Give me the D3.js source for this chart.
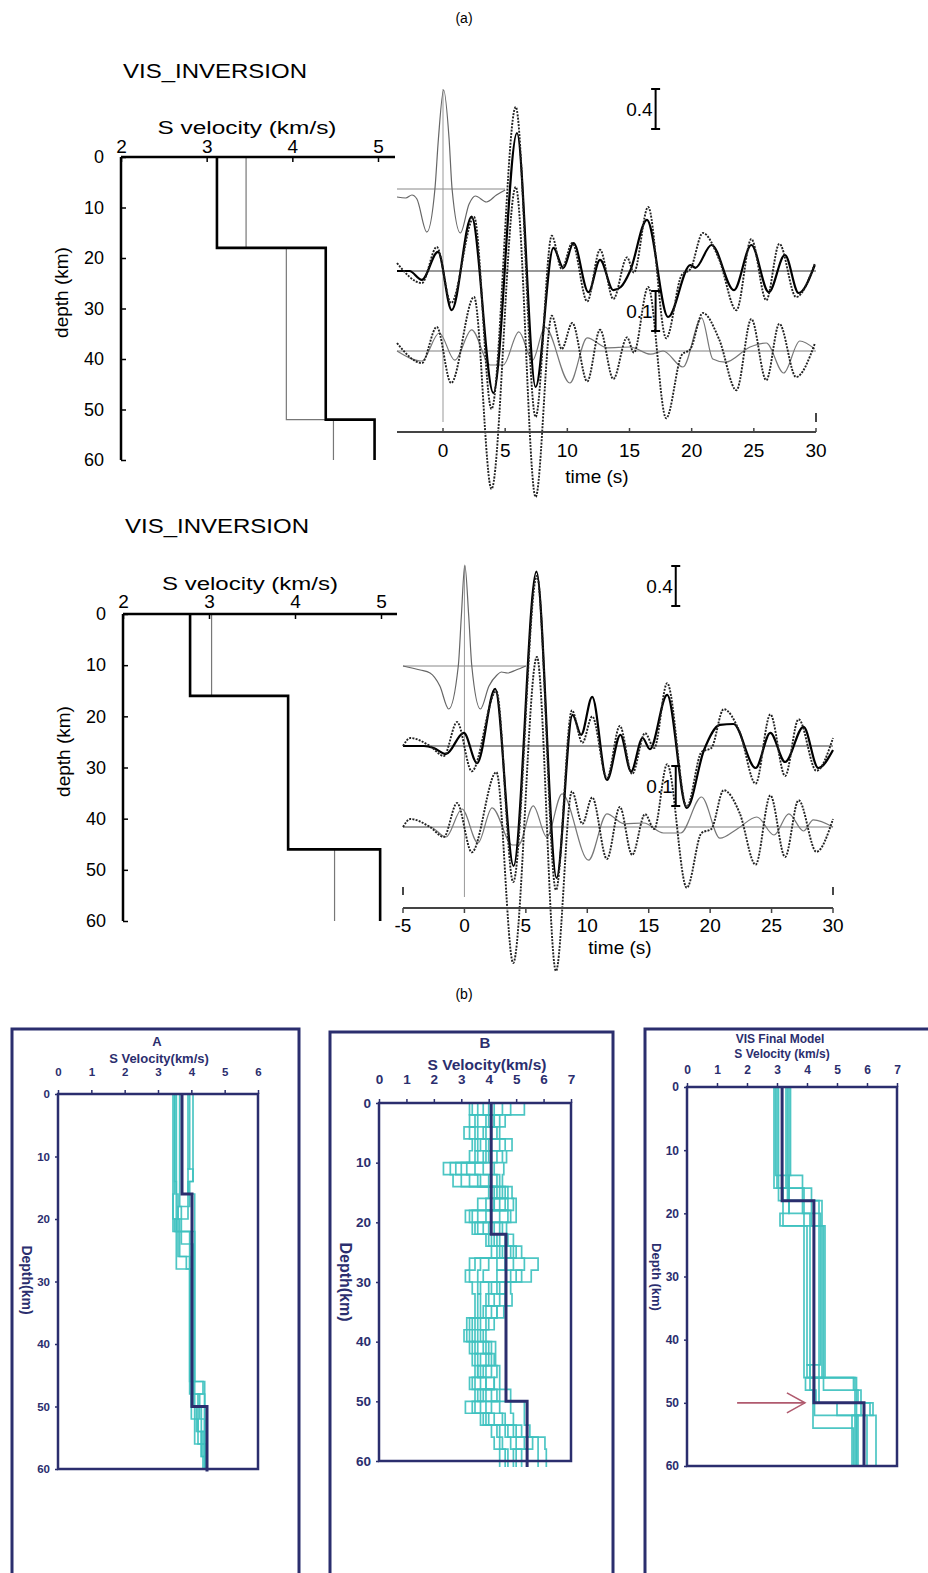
<!DOCTYPE html>
<html>
<head>
<meta charset="utf-8">
<script src="https://cdn.jsdelivr.net/npm/d3@7"></script>
<style>
body { margin: 0; background: #fff; }
text { font-family: "Liberation Sans", Arial, sans-serif; }
</style>
</head>
<body>
<svg id="fig" width="928" height="1573"></svg>
<script>
// ---------- data: (a) velocity models, [top depth km, Vs km/s] ----------
const velTicks = [2, 3, 4, 5];
const depthTicks = [0, 10, 20, 30, 40, 50, 60];
const model1Final = [[0, 3.12], [18, 4.39], [52, 4.96]];
const model1Start = [[0, 3.46], [18, 3.93], [52, 4.48]];
const model2Final = [[0, 2.78], [16, 3.92], [46, 4.99]];
const model2Start = [[0, 3.03], [16, 3.92], [46, 4.46]];

// ---------- data: (a) waveforms, [time s, amplitude] ----------
const timeTicksTop = [0, 5, 10, 15, 20, 25, 30];
const timeTicksBot = [-5, 0, 5, 10, 15, 20, 25, 30];

const topWavelet = [[-3.7,-0.08],[-3.0,-0.09],[-2.5,-0.06],[-2.1,-0.1],[-1.3,-0.43],[-0.65,0],[-0.37,0.5],
  [0.05,0.99],[0.49,0.5],[0.73,0],[1.4,-0.44],[2.1,-0.15],[2.6,-0.07],[3.5,-0.13],[4.3,-0.06],[5,-0.01]];
const topObserved = [[-3.7,0.02],[-1.7,-0.03],[-0.5,0.06],[0.65,-0.08],[2.5,0.135],[3.9,-0.345],[5.85,0.41],
  [7.45,-0.365],[8.75,0.088],[9.55,0.005],[10.4,0.07],[11.6,-0.076],[12.63,0.053],[13.7,-0.07],[14.8,0.034],
  [15.35,-0.004],[16.5,0.16],[17.95,-0.168],[19.2,-0.01],[19.9,0.005],[20.9,0.095],[22.2,0.03],[23.6,-0.098],
  [24.8,0.08],[26.0,-0.073],[27.05,0.068],[28.4,-0.065],[29.9,0.018]];
const topFinal = [[-3.7,0],[-2.7,0],[-1.7,-0.022],[-0.4,0.048],[0.7,-0.098],[2.3,0.136],[4.05,-0.305],[5.95,0.345],
  [7.45,-0.29],[8.88,0.058],[9.68,0.008],[10.5,0.07],[11.7,-0.053],[12.63,0.028],[13.7,-0.048],[14.3,-0.04],
  [15.05,0],[16.4,0.128],[18.1,-0.115],[19.9,0.015],[20.3,0.008],[21.6,0.065],[23.4,-0.048],[24.8,0.065],
  [26.2,-0.053],[27.5,0.04],[28.6,-0.055],[29.9,0.015]];
const topInitial = [[-3.7,0],[-1.7,-0.025],[-0.3,0.045],[0.95,-0.023],[2.3,0.053],[3.8,-0.035],[4.85,-0.035],
  [6.1,0.048],[7.2,-0.023],[8.2,0.06],[10.2,-0.08],[11.6,0.033],[13.2,0.008],[15.05,0.01],[16.7,-0.008],
  [17.7,0],[19.3,-0.04],[20.8,0.083],[21.7,-0.02],[22.7,-0.028],[24.7,0.01],[26,0.02],[27.4,-0.055],
  [28.7,0.025],[29.9,0.005]];

const botWavelet = [[-5,0],[-3.6,-0.04],[-2.8,-0.07],[-2.0,-0.2],[-1.28,-0.43],[-0.5,0],[-0.25,0.5],[0.03,1.01],
  [0.35,0.5],[0.6,0],[1.3,-0.43],[2.0,-0.2],[2.65,-0.09],[3.0,-0.06],[3.5,-0.07],[4.2,-0.04],[5,0]];
const botObserved = [[-5,0],[-4.4,0.02],[-2.8,0],[-1.68,-0.025],[-0.6,0.06],[0.6,-0.063],[2.6,0.137],[3.97,-0.34],
  [5.9,0.425],[7.45,-0.36],[8.75,0.089],[9.6,0.008],[10.4,0.074],[11.6,-0.08],[12.65,0.05],[13.65,-0.07],
  [14.7,0.032],[15.45,-0.005],[16.5,0.157],[18.1,-0.152],[19.3,-0.015],[20.1,-0.005],[21.1,0.092],[22.4,0.035],
  [23.7,-0.094],[24.9,0.079],[26.1,-0.075],[27.2,0.067],[28.65,-0.062],[30,0.02]];
const botFinal = [[-5,0],[-3.3,0],[-2.5,-0.005],[-1.5,-0.02],[-0.05,0.033],[1.03,-0.043],[2.5,0.143],[4.0,-0.3],
  [5.86,0.436],[7.5,-0.33],[8.8,0.078],[9.5,0.028],[10.4,0.123],[11.6,-0.085],[12.7,0.028],[13.56,-0.064],
  [14.5,0.02],[15.1,-0.008],[16.5,0.128],[18.1,-0.155],[19.5,-0.01],[20.8,0.053],[21.9,0.055],[23.7,-0.055],
  [24.9,0.033],[26.1,-0.04],[27.6,0.048],[28.8,-0.055],[30,-0.01]];
const botInitial = [[-5,0],[-2.8,0],[-1.5,-0.025],[-0.2,0.045],[1.1,-0.04],[2.25,0.048],[3.9,-0.045],[4.4,-0.045],
  [5.6,0.053],[6.7,-0.025],[7.95,0.083],[10.1,-0.083],[11.6,0.033],[13,0.008],[14.6,0.01],[16.2,-0.015],
  [17.6,-0.015],[19.3,0.075],[20.8,-0.028],[22.2,-0.005],[23.8,0.025],[25.2,-0.02],[26.4,0.033],[27.6,-0.01],
  [28.4,0.018],[30,0]];

// ---------- data: (b) model ensembles ----------
const finalA = [[0, 3.72], [16, 4.02], [50, 4.47]];
const profilesA = [
  [[0,3.45],[22,3.95],[46,4.35],[48,4.2],[56,4.45]],
  [[0,3.5],[14,3.55],[28,4.0],[46,4.4],[54,4.3],[58,4.45]],
  [[0,3.55],[16,3.6],[26,3.95],[48,4.25],[52,4.4]],
  [[0,3.65],[18,3.7],[24,4.05],[50,4.1],[56,4.45]],
  [[0,3.9],[12,4.05],[14,3.9],[16,4.1],[50,4.3],[58,4.45]],
  [[0,3.95],[12,3.9],[20,3.55],[22,4.0],[52,4.2],[54,4.35]],
  [[0,4.05],[14,3.95],[18,3.6],[20,3.5],[22,4.1],[46,4.05],[48,4.4],[56,4.45]],
  [[0,3.5],[16,3.45],[20,3.65],[26,3.85],[28,4.0],[50,4.15],[54,4.4]]
];
const finalB = [[0, 4.09], [22, 4.63], [50, 5.4]];
// 2 km layers from the surface
const profilesB = [
  [3.3,3.5,3.1,3.4,3.3,2.35,2.7,4.0,3.6,3.15,3.4,3.9,4.1,3.3,3.15,3.4,3.5,3.5,3.2,3.1,3.3,3.4,3.5,3.3,3.5,3.15,3.7,4.1,4.2,4.4],
  [5.3,4.6,4.4,4.85,4.65,4.55,4.5,4.85,5.0,5.0,4.65,4.9,5.2,5.8,5.55,4.8,4.85,4.55,4.2,3.9,4.25,4.25,4.4,4.4,4.8,5.3,5.3,5.5,6.05,6.1],
  [3.6,3.3,3.5,3.6,3.5,2.6,3.0,4.2,4.4,3.4,3.6,4.1,4.4,3.5,3.3,3.6,3.7,3.7,3.4,3.2,3.5,3.6,3.7,3.5,3.7,3.5,3.9,4.3,4.5,4.6],
  [4.0,3.9,3.8,4.0,3.8,3.0,3.3,4.4,4.7,3.9,3.8,4.3,4.6,4.0,3.8,4.0,4.0,3.9,3.6,3.4,3.8,3.9,3.9,3.7,3.9,3.9,4.2,4.6,4.8,5.0],
  [4.5,4.2,4.1,4.4,4.3,3.5,3.7,4.6,4.9,4.4,4.2,4.6,4.8,4.6,4.3,4.3,4.4,4.1,3.9,3.6,4.0,4.1,4.1,3.9,4.1,4.4,4.6,4.9,5.3,5.4],
  [4.8,3.6,3.3,3.9,4.0,3.8,4.0,4.3,3.9,4.7,4.4,4.0,4.3,5.3,5.0,3.7,3.6,3.6,3.3,3.3,3.6,3.5,3.6,3.9,4.4,3.7,4.0,5.2,5.8,5.8],
  [3.8,4.4,3.6,3.5,4.5,4.2,4.3,4.1,4.6,3.6,4.5,4.7,5.0,3.7,3.6,4.6,3.9,4.3,4.0,3.7,4.1,3.7,4.3,4.2,3.6,4.8,4.9,4.4,4.4,4.7],
  [4.2,4.0,4.3,3.7,3.6,3.2,3.6,4.5,4.2,3.3,4.0,4.4,4.5,4.9,4.8,4.1,4.2,3.8,3.5,3.5,3.4,4.0,3.8,3.4,4.3,4.1,3.8,4.7,5.0,5.2],
  [3.4,4.2,3.9,4.6,3.9,2.8,4.4,4.7,4.2,4.8,3.5,4.2,4.9,4.3,5.2,4.4,4.6,4.3,3.7,3.8,3.9,4.2,3.6,4.2,3.8,3.4,4.5,5.0,5.6,4.9]
];
const finalVis = [[0, 3.17], [18, 4.23], [50, 5.9]];
const profilesVis = [
  [[0,2.9],[16,3.9],[46,5.65]],
  [[0,2.95],[14,3.85],[20,4.45],[44,4.0],[46,5.6],[52,5.5]],
  [[0,3.0],[16,4.15],[22,4.55],[48,5.7],[50,6.1],[52,6.3]],
  [[0,3.35],[18,4.5],[46,3.95],[48,4.2],[54,5.55]],
  [[0,3.4],[20,4.1],[48,4.3],[50,5.0],[52,5.7]],
  [[0,3.45],[14,3.4],[20,3.1],[22,4.6],[46,4.25],[52,6.0]],
  [[0,3.05],[18,4.4],[50,6.2],[52,5.6]],
  [[0,3.3],[16,3.2],[22,4.0],[44,4.1],[46,5.55],[48,5.8],[52,5.65]]
];

const navy = "#2b2e6e";
const cyan = "#3ec1bf";
const svg = d3.select("#fig");
const intFmt = d3.format("d");

// model as [[top, v]...] -> step line points [v, depth]
function stepPoints(model, bottom) {
  const pts = [];
  model.forEach((d, i) => {
    const next = i < model.length - 1 ? model[i + 1][0] : bottom;
    pts.push([d[1], d[0]], [d[1], next]);
  });
  return pts;
}

function styleAxis(g, size, color, weight) {
  g.attr("font-size", null).attr("font-family", null);
  g.select(".domain").remove();
  g.selectAll("line").attr("stroke", color).attr("stroke-width", 1.5);
  g.selectAll("text").attr("font-size", size).attr("fill", color).attr("font-weight", weight || null);
}

svg.append("text").attr("x", 464).attr("y", 23).attr("text-anchor", "middle").attr("font-size", 14).text("(a)");
svg.append("text").attr("x", 464).attr("y", 999).attr("text-anchor", "middle").attr("font-size", 14).text("(b)");

// ---------- velocity panels of (a) ----------
function velPanel(o) {
  const x = d3.scaleLinear().domain([2, 5]).range([o.left, o.right]);
  const y = d3.scaleLinear().domain([0, 60]).range([o.top, o.bottom]);
  const g = svg.append("g");

  g.append("text").attr("x", o.left + 2).attr("y", o.titleY).attr("font-size", 21)
    .attr("textLength", 184).attr("lengthAdjust", "spacingAndGlyphs").text("VIS_INVERSION");
  g.append("text").attr("x", o.labelX).attr("y", o.labelY).attr("font-size", 18).attr("text-anchor", "middle")
    .attr("textLength", o.labelLen).attr("lengthAdjust", "spacingAndGlyphs").text("S velocity (km/s)");
  g.append("text").attr("transform", `translate(${o.left - 53},${(o.top + o.bottom) / 2 - 16}) rotate(-90)`)
    .attr("text-anchor", "middle").attr("font-size", 19).text("depth (km)");

  const line = d3.line().x(d => x(d[0])).y(d => y(d[1]));
  g.append("path").attr("d", line(stepPoints(o.start, 60))).attr("fill", "none").attr("stroke", "#777").attr("stroke-width", 1.2);
  g.append("path").attr("d", line(stepPoints(o.final, 60))).attr("fill", "none").attr("stroke", "#000").attr("stroke-width", 2.6);

  const ax = g.append("g").attr("transform", `translate(0,${o.top})`)
    .call(d3.axisTop(x).tickValues(velTicks).tickFormat(intFmt).tickSize(-5).tickPadding(o.velPad));
  styleAxis(ax, 19, "#000");
  const ay = g.append("g").attr("transform", `translate(${o.left},0)`)
    .call(d3.axisLeft(y).tickValues(depthTicks).tickFormat(intFmt).tickSize(-5).tickPadding(17));
  styleAxis(ay, 18, "#000");

  g.append("line").attr("x1", o.left).attr("x2", o.axisEnd).attr("y1", o.top).attr("y2", o.top)
    .attr("stroke", "#000").attr("stroke-width", 2.5);
  g.append("line").attr("x1", o.left).attr("x2", o.left).attr("y1", o.top).attr("y2", o.bottom)
    .attr("stroke", "#000").attr("stroke-width", 2.5);
}

velPanel({ left: 121, right: 378, top: 157, bottom: 460, axisEnd: 395, titleY: 78,
  labelX: 247, labelY: 134, labelLen: 179, velPad: 4, final: model1Final, start: model1Start });
velPanel({ left: 123, right: 381, top: 614, bottom: 921, axisEnd: 397, titleY: 533,
  labelX: 250, labelY: 590, labelLen: 176, velPad: 6, final: model2Final, start: model2Start });

// ---------- waveform panels of (a) ----------
const rfAmp = d3.scaleLinear().domain([0, 0.1]).range([0, -40]);
const wvAmp = d3.scaleLinear().domain([0, 0.4]).range([0, -40]);

function wavePanel(o) {
  const t = o.t;
  const g = svg.append("g");
  const [b1, b2, b3] = o.bases;
  const tmin = t.domain()[0];
  const lineAt = (base, amp) => d3.line().x(d => t(d[0])).y(d => base + amp(d[1])).curve(d3.curveMonotoneX);

  // baselines
  g.append("line").attr("x1", t(tmin)).attr("x2", t(5)).attr("y1", b1).attr("y2", b1).attr("stroke", "#888").attr("stroke-width", 1);
  g.append("line").attr("x1", t(tmin)).attr("x2", t(30)).attr("y1", b2).attr("y2", b2).attr("stroke", "#777").attr("stroke-width", 1.3);
  g.append("line").attr("x1", t(tmin)).attr("x2", t(30)).attr("y1", b3).attr("y2", b3).attr("stroke", "#aaa").attr("stroke-width", 1.3);
  // zero-time marker
  g.append("line").attr("x1", t(0)).attr("x2", t(0)).attr("y1", b1 + wvAmp(1.0)).attr("y2", o.vlineBottom)
    .attr("stroke", "#999").attr("stroke-width", 1);

  g.append("path").attr("d", lineAt(b1, wvAmp)(o.wavelet)).attr("fill", "none").attr("stroke", "#666").attr("stroke-width", 1.2);
  g.append("path").attr("d", lineAt(b3, rfAmp)(o.ini)).attr("fill", "none").attr("stroke", "#777").attr("stroke-width", 1.2);
  g.append("path").attr("d", lineAt(b3, rfAmp)(o.obs)).attr("fill", "none").attr("stroke", "#222")
    .attr("stroke-width", 1.9).attr("stroke-dasharray", "2,1.3");
  g.append("path").attr("d", lineAt(b2, rfAmp)(o.fin)).attr("fill", "none").attr("stroke", "#000").attr("stroke-width", 2.2);
  g.append("path").attr("d", lineAt(b2, rfAmp)(o.obs)).attr("fill", "none").attr("stroke", "#222")
    .attr("stroke-width", 1.9).attr("stroke-dasharray", "2,1.3");

  // scale bars
  const bx = t(o.barT);
  const bars = [
    { y1: b1 + wvAmp(0.6), y2: b1 + wvAmp(1.0), label: "0.4" },
    { y1: b2 + rfAmp(-0.05), y2: b2 + rfAmp(-0.15), label: "0.1" }
  ];
  bars.forEach(b => {
    g.append("line").attr("x1", bx).attr("x2", bx).attr("y1", b.y1).attr("y2", b.y2).attr("stroke", "#000").attr("stroke-width", 2);
    [b.y1, b.y2].forEach(yy => g.append("line").attr("x1", bx - 4.5).attr("x2", bx + 4.5).attr("y1", yy).attr("y2", yy)
      .attr("stroke", "#000").attr("stroke-width", 2));
    g.append("text").attr("x", bx - 3).attr("y", (b.y1 + b.y2) / 2).attr("dy", "0.35em").attr("text-anchor", "end")
      .attr("font-size", 19).text(b.label);
  });

  // time axis
  g.append("line").attr("x1", t(tmin)).attr("x2", t(30)).attr("y1", o.axisY).attr("y2", o.axisY)
    .attr("stroke", "#444").attr("stroke-width", 2);
  o.ticks.forEach(v => {
    g.append("line").attr("x1", t(v)).attr("x2", t(v)).attr("y1", o.axisY).attr("y2", o.axisY + o.tickLen)
      .attr("stroke", "#444").attr("stroke-width", 1.5);
    g.append("text").attr("x", t(v)).attr("y", o.labelY).attr("dy", "0.35em").attr("text-anchor", "middle")
      .attr("font-size", 19).text(v);
  });
  o.endMarks.forEach(v => g.append("line").attr("x1", t(v)).attr("x2", t(v)).attr("y1", o.markY[0]).attr("y2", o.markY[1])
    .attr("stroke", "#333").attr("stroke-width", 1.8));
  g.append("text").attr("x", o.titleX).attr("y", o.titleY).attr("dy", "0.35em").attr("text-anchor", "middle")
    .attr("font-size", 19).text("time (s)");
}

wavePanel({ t: d3.scaleLinear().domain([-3.7, 30]).range([397, 816]), axisY: 432, bases: [189, 271, 351],
  wavelet: topWavelet, obs: topObserved, fin: topFinal, ini: topInitial, ticks: timeTicksTop, tickLen: -4,
  endMarks: [30], markY: [413, 422], labelY: 450, titleX: 597, titleY: 476, vlineBottom: 422, barT: 17.1 });
wavePanel({ t: d3.scaleLinear().domain([-5, 30]).range([403, 833]), axisY: 908, bases: [666, 746, 827],
  wavelet: botWavelet, obs: botObserved, fin: botFinal, ini: botInitial, ticks: timeTicksBot, tickLen: 5,
  endMarks: [-5, 30], markY: [887, 895], labelY: 925, titleX: 620, titleY: 947, vlineBottom: 897, barT: 17.2 });

// ---------- (b) ensemble panels ----------
function boxPanel(o) {
  const x = d3.scaleLinear().domain([0, o.vmax]).range([o.left, o.right]);
  const y = d3.scaleLinear().domain([0, 60]).range([o.top, o.bottom]);
  const g = svg.append("g");
  const line = d3.line().x(d => x(d[0])).y(d => y(d[1]));

  g.append("rect").attr("x", o.box[0]).attr("y", o.box[1]).attr("width", o.box[2]).attr("height", 620)
    .attr("fill", "none").attr("stroke", navy).attr("stroke-width", 3);

  o.profiles.forEach(p => g.append("path").attr("d", line(stepPoints(p, o.deep))).attr("fill", "none")
    .attr("stroke", cyan).attr("stroke-width", 1.7).attr("opacity", 0.92));
  g.append("path").attr("d", line(stepPoints(o.final, o.finalDeep))).attr("fill", "none")
    .attr("stroke", navy).attr("stroke-width", 3);

  g.append("rect").attr("x", o.left).attr("y", o.top).attr("width", o.right - o.left).attr("height", o.bottom - o.top)
    .attr("fill", "none").attr("stroke", navy).attr("stroke-width", 2.5);

  const ax = g.append("g").attr("transform", `translate(0,${o.top})`)
    .call(d3.axisTop(x).tickValues(d3.range(0, o.vmax + 1)).tickFormat(intFmt).tickSize(4).tickPadding(o.velPad));
  styleAxis(ax, o.tickSize, navy, "bold");
  const ay = g.append("g").attr("transform", `translate(${o.left},0)`)
    .call(d3.axisLeft(y).tickValues(depthTicks).tickFormat(intFmt).tickSize(3).tickPadding(5));
  styleAxis(ay, o.tickSize, navy, "bold");

  g.append("text").attr("x", o.titleX).attr("y", o.titleY).attr("dy", "0.35em").attr("text-anchor", "middle")
    .attr("font-size", o.titleSize).attr("font-weight", "bold").attr("fill", navy).text(o.title);
  g.append("text").attr("x", o.titleX + 2).attr("y", o.labelY).attr("dy", "0.35em").attr("text-anchor", "middle")
    .attr("font-size", o.labelSize).attr("font-weight", "bold").attr("fill", navy).text(o.label);
  g.append("text").attr("transform", `translate(${o.depthX},${o.depthY}) rotate(90)`).attr("dy", "0.35em")
    .attr("text-anchor", "middle").attr("font-size", o.depthSize).attr("font-weight", "bold").attr("fill", navy)
    .text(o.depthLabel);
  return { x, y, g };
}

boxPanel({ vmax: 6, left: 58, right: 258, top: 1094, bottom: 1469, box: [12, 1029, 287], velPad: 14,
  profiles: profilesA, deep: 60, final: finalA, finalDeep: 60.4, tickSize: 11.5,
  title: "A", titleX: 157, titleY: 1041, titleSize: 13, label: "S Velocity(km/s)", labelY: 1058, labelSize: 13,
  depthLabel: "Depth(km)", depthX: 27, depthY: 1280, depthSize: 14 });

boxPanel({ vmax: 7, left: 379, right: 571, top: 1103, bottom: 1461, box: [330, 1032, 283], velPad: 15,
  profiles: profilesB.map(vals => vals.map((v, i) => [i * 2, v])), deep: 61, final: finalB, finalDeep: 61,
  tickSize: 13.5, title: "B", titleX: 485, titleY: 1043, titleSize: 15, label: "S Velocity(km/s)", labelY: 1065,
  labelSize: 15.5, depthLabel: "Depth(km)", depthX: 346, depthY: 1282, depthSize: 16 });

const vis = boxPanel({ vmax: 7, left: 687, right: 897, top: 1087, bottom: 1466, box: [645, 1029, 290], velPad: 9,
  profiles: profilesVis, deep: 60, final: finalVis, finalDeep: 60, tickSize: 12,
  title: "VIS Final Model", titleX: 780, titleY: 1039, titleSize: 12, label: "S Velocity (km/s)", labelY: 1054,
  labelSize: 12, depthLabel: "Depth (km)", depthX: 657, depthY: 1277, depthSize: 13 });

// arrow pointing at the 50 km interface
const ay50 = vis.y(50), ax1 = vis.x(3.93);
vis.g.append("line").attr("x1", vis.x(1.67)).attr("x2", ax1).attr("y1", ay50).attr("y2", ay50)
  .attr("stroke", "#b05a6e").attr("stroke-width", 1.6);
vis.g.append("polyline").attr("points", `${ax1 - 18},${ay50 - 10} ${ax1},${ay50} ${ax1 - 18},${ay50 + 10}`)
  .attr("fill", "none").attr("stroke", "#b05a6e").attr("stroke-width", 1.6);
</script>
</body>
</html>
